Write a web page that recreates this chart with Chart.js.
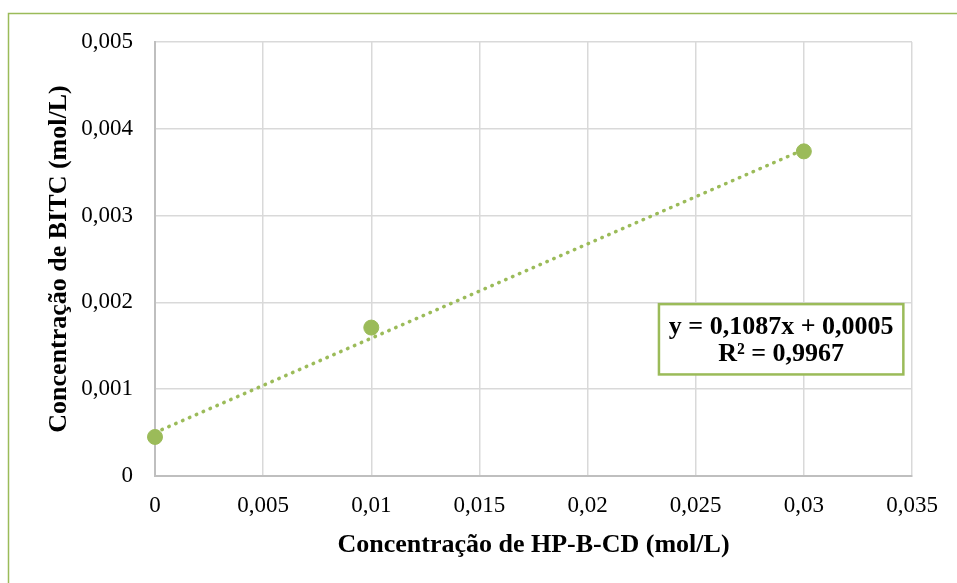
<!DOCTYPE html>
<html>
<head>
<meta charset="utf-8">
<script src="https://cdn.jsdelivr.net/npm/chart.js@4"></script>
<style>
  html, body { margin: 0; padding: 0; background: #fff; }
  #wrap { width: 957px; height: 583px; position: relative; }
</style>
</head>
<body>
<div id="wrap"><canvas id="c" width="957" height="583"></canvas></div>
<script>
// Measured data: BITC solubility vs HP-B-CD concentration
const hpbcd = [0, 0.01, 0.03];
const bitc = [0.00045, 0.00171, 0.00374];

// Linear fit reported on the chart
const fitSlope = 0.1087;
const fitIntercept = 0.0005;
const fitR2 = 0.9967;
const fitLabels = ['y = 0,1087x + 0,0005', 'R² = 0,9967'];

// Axis tick labels (Portuguese decimal comma)
const xTicks = [0, 0.005, 0.01, 0.015, 0.02, 0.025, 0.03, 0.035];
const xTickLabels = ['0', '0,005', '0,01', '0,015', '0,02', '0,025', '0,03', '0,035'];
const yTicks = [0, 0.001, 0.002, 0.003, 0.004, 0.005];
const yTickLabels = ['0', '0,001', '0,002', '0,003', '0,004', '0,005'];

const xTitle = 'Concentração de HP-B-CD (mol/L)';
const yTitle = 'Concentração de BITC (mol/L)';

const green = '#9BBB59';
const serif = '"Liberation Serif", "Times New Roman", serif';

// Trend line endpoints from the fitted equation
const fitX = [hpbcd[0], hpbcd[hpbcd.length - 1]];
const fitPoints = fitX.map(x => ({ x: x, y: fitSlope * x + fitIntercept }));

const PAD_LEFT = 44;
const PAD_BOTTOM = 22;

const frame = {
  id: 'frame',
  beforeDraw(chart) {
    const ctx = chart.ctx;
    ctx.save();
    ctx.strokeStyle = green;
    ctx.lineWidth = 1.5;
    ctx.beginPath();
    ctx.moveTo(8.5, 583);
    ctx.lineTo(8.5, 13.5);
    ctx.lineTo(957, 13.5);
    ctx.stroke();
    ctx.restore();
  }
};

const equationBox = {
  id: 'equationBox',
  afterDraw(chart) {
    const ctx = chart.ctx;
    const xs = chart.scales.x, ys = chart.scales.y;
    // box anchored in data space near the right of the plot
    const left = xs.getPixelForValue(0.0233);
    const right = xs.getPixelForValue(0.0346);
    const top = ys.getPixelForValue(0.00198);
    const bottom = ys.getPixelForValue(0.00117);
    ctx.save();
    ctx.fillStyle = '#fff';
    ctx.fillRect(left, top, right - left, bottom - top);
    ctx.strokeStyle = green;
    ctx.lineWidth = 2.5;
    ctx.strokeRect(left, top, right - left, bottom - top);
    ctx.fillStyle = '#000';
    ctx.font = 'bold 26px ' + serif;
    ctx.textAlign = 'center';
    ctx.textBaseline = 'middle';
    const cx = (left + right) / 2;
    ctx.fillText(fitLabels[0], cx, top + 23);
    ctx.fillText(fitLabels[1], cx, top + 50);
    ctx.restore();
  }
};

new Chart(document.getElementById('c'), {
  type: 'scatter',
  data: {
    datasets: [
      {
        label: 'BITC',
        data: hpbcd.map((x, i) => ({ x: x, y: bitc[i] })),
        backgroundColor: green,
        borderColor: green,
        pointRadius: 7.5,
        pointHoverRadius: 7.5,
        showLine: false,
        clip: false,
        order: 1
      },
      {
        label: 'Linear',
        data: fitPoints,
        showLine: true,
        borderColor: green,
        borderWidth: 3.5,
        borderDash: [0.5, 7],
        borderCapStyle: 'round',
        pointRadius: 0,
        fill: false,
        clip: false,
        order: 2
      }
    ]
  },
  options: {
    responsive: false,
    animation: false,
    layout: { padding: { left: PAD_LEFT, top: 42, right: 45, bottom: PAD_BOTTOM } },
    plugins: {
      legend: { display: false },
      tooltip: { enabled: false }
    },
    scales: {
      x: {
        type: 'linear',
        min: 0,
        max: 0.035,
        afterBuildTicks(scale) { scale.ticks = xTicks.map(v => ({ value: v })); },
        afterFit(scale) { scale.height = 583 - 476 - PAD_BOTTOM; },
        ticks: {
          color: '#000',
          font: { family: serif, size: 23 },
          padding: 16,
          maxRotation: 0,
          callback: (v, i) => xTickLabels[i]
        },
        grid: { color: '#d9d9d9', lineWidth: 1.5, drawTicks: false },
        border: { color: '#bfbfbf', width: 2 },
        title: {
          display: true,
          text: xTitle,
          color: '#000',
          font: { family: serif, size: 26, weight: 'bold' },
          padding: { top: 4, bottom: 0 }
        }
      },
      y: {
        type: 'linear',
        min: 0,
        max: 0.005,
        afterBuildTicks(scale) { scale.ticks = yTicks.map(v => ({ value: v })); },
        afterFit(scale) { scale.width = 155 - PAD_LEFT; },
        ticks: {
          color: '#000',
          font: { family: serif, size: 23 },
          padding: 22,
          callback: (v, i) => yTickLabels[i]
        },
        grid: { color: '#d9d9d9', lineWidth: 1.5, drawTicks: false },
        border: { color: '#bfbfbf', width: 2 },
        title: {
          display: true,
          text: yTitle,
          color: '#000',
          font: { family: serif, size: 26, weight: 'bold' },
          padding: { top: 0, bottom: 0 }
        }
      }
    }
  },
  plugins: [frame, equationBox]
});
</script>
</body>
</html>
